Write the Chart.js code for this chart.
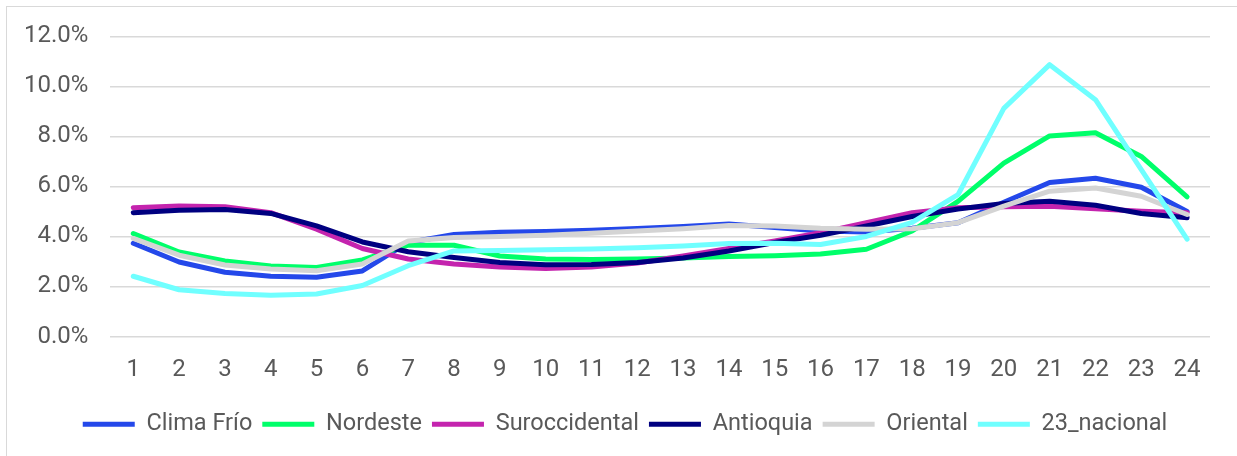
<!DOCTYPE html>
<html>
<head>
<meta charset="utf-8">
<script src="https://cdn.jsdelivr.net/npm/chart.js@4"></script>
<style>
  body { margin: 0; background: #fff; overflow: hidden; }
  #frame { position: absolute; left: 6px; top: 6px; width: 1260px; height: 480px; border: 1px solid #d9d9d9; }
  #wrap { position: absolute; left: 0; top: 0; width: 1237px; height: 456px; }
</style>
</head>
<body>
<div id="frame"></div>
<div id="wrap"><canvas id="chart"></canvas></div>
<script>
// Horas del día
const hours = ['1','2','3','4','5','6','7','8','9','10','11','12','13','14','15','16','17','18','19','20','21','22','23','24'];

// Participación horaria (%) por región
const climaFrio = [3.73, 2.98, 2.57, 2.41, 2.37, 2.62, 3.76, 4.08, 4.17, 4.2, 4.25, 4.32, 4.4, 4.5, 4.36, 4.22, 4.18, 4.33, 4.55, 5.37, 6.16, 6.33, 5.97, 5.0];
const nordeste = [4.12, 3.38, 3.02, 2.82, 2.76, 3.06, 3.65, 3.65, 3.22, 3.1, 3.08, 3.1, 3.14, 3.2, 3.23, 3.3, 3.49, 4.22, 5.4, 6.93, 8.02, 8.15, 7.2, 5.58];
const suroccidental = [5.15, 5.22, 5.19, 4.95, 4.29, 3.52, 3.1, 2.9, 2.78, 2.72, 2.78, 2.94, 3.22, 3.52, 3.82, 4.15, 4.55, 4.95, 5.15, 5.19, 5.21, 5.11, 5.01, 4.95];
const antioquia = [4.95, 5.05, 5.08, 4.92, 4.42, 3.78, 3.39, 3.16, 2.96, 2.87, 2.88, 2.96, 3.14, 3.42, 3.76, 4.05, 4.42, 4.8, 5.1, 5.32, 5.41, 5.25, 4.92, 4.75];
const oriental = [3.92, 3.25, 2.86, 2.7, 2.63, 2.9, 3.82, 3.96, 4.0, 4.05, 4.13, 4.22, 4.31, 4.44, 4.42, 4.33, 4.29, 4.31, 4.55, 5.21, 5.81, 5.94, 5.61, 4.88];
const nacional = [2.41, 1.87, 1.72, 1.65, 1.7, 2.04, 2.83, 3.42, 3.44, 3.47, 3.5, 3.55, 3.62, 3.72, 3.73, 3.68, 4.0, 4.56, 5.67, 9.12, 10.87, 9.47, 6.67, 3.89];

const seriesNames = ['Clima Frío', 'Nordeste', 'Suroccidental', 'Antioquia', 'Oriental', '23_nacional'];
const seriesValues = [climaFrio, nordeste, suroccidental, antioquia, oriental, nacional];
const seriesColors = ['#2448ea', '#00ff6a', '#c424ae', '#000080', '#d4d4d4', '#70ffff'];

// Ticks del eje Y
const yTicks = [0, 2, 4, 6, 8, 10, 12];

const textColor = '#595959';
const fontSpec = { family: 'Roboto', size: 24 };

const datasets = seriesNames.map((name, i) => ({
    label: name,
    data: seriesValues[i],
    borderColor: seriesColors[i],
    backgroundColor: seriesColors[i],
    borderWidth: 5,
    borderCapStyle: 'round',
    borderJoinStyle: 'round',
    pointRadius: 0,
    pointStyle: 'line',
    tension: 0,
    fill: false,
    // las últimas series quedan encima, como en el original
    order: seriesNames.length - i
}));

// La leyenda del original está algo corrida a la derecha
const legendShift = {
    id: 'legendShift',
    afterLayout(chart) {
        chart.legend.left += 19;
        chart.legend.right += 19;
    }
};

new Chart(document.getElementById('chart'), {
    type: 'line',
    data: { labels: hours, datasets: datasets },
    plugins: [legendShift],
    options: {
        responsive: true,
        maintainAspectRatio: false,
        animation: false,
        layout: { padding: { left: 2, right: 27, top: 23, bottom: 10 } },
        plugins: {
            tooltip: { enabled: false },
            legend: {
                position: 'bottom',
                reverse: true,
                labels: {
                    usePointStyle: true,
                    pointStyleWidth: 52,
                    padding: 10,
                    color: textColor,
                    font: { family: 'Roboto', size: 23.5 }
                }
            }
        },
        scales: {
            x: {
                offset: true,
                grid: { display: false, drawTicks: false },
                border: { display: false },
                ticks: {
                    color: textColor,
                    font: { family: 'Roboto', size: 24, lineHeight: 1.0 },
                    padding: 21,
                    maxRotation: 0,
                    autoSkip: false
                }
            },
            y: {
                min: yTicks[0],
                max: yTicks[yTicks.length - 1],
                afterBuildTicks: axis => { axis.ticks = yTicks.map(v => ({ value: v })); },
                grid: { color: '#d9d9d9', lineWidth: 1.5, drawTicks: false },
                border: { display: false },
                ticks: {
                    color: textColor,
                    font: fontSpec,
                    padding: 22,
                    callback: v => v.toFixed(1) + '%'
                }
            }
        }
    }
});
</script>
</body>
</html>
